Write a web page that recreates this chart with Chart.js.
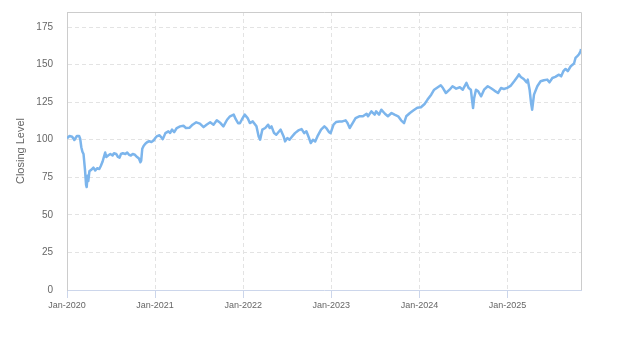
<!DOCTYPE html>
<html>
<head>
<meta charset="utf-8">
<script src="https://cdn.jsdelivr.net/npm/chart.js@4"></script>
<style>
  body { margin: 0; background: #fff; }
  #wrap { width: 623px; height: 350px; }
</style>
</head>
<body>
<div id="wrap"><canvas id="closeChart" width="623" height="350"></canvas></div>
<script>
// months elapsed since Jan-2020, and the closing level read at that point
const monthOffsets = [
  0, 0.35, 0.7, 1.0, 1.35, 1.65, 1.8, 1.95, 2.1, 2.25, 2.45, 2.6, 2.68, 2.8, 2.9,
  3.05, 3.3, 3.6, 3.85, 4.1, 4.4, 4.6, 4.85, 5.05, 5.2, 5.35, 5.6, 5.9, 6.2, 6.4,
  6.7, 6.95, 7.15, 7.35, 7.6, 7.95, 8.2, 8.45, 8.7, 8.95, 9.25, 9.55, 9.8, 10.0,
  10.1, 10.25, 10.45, 10.7, 10.95, 11.2, 11.5, 11.8, 12.0,
  12.2, 12.6, 13.05, 13.4, 13.8, 14.05, 14.3, 14.6, 14.95, 15.4, 15.86, 16.2,
  16.7, 17.1, 17.6, 18.1, 18.6, 19.0, 19.5, 19.95, 20.4, 20.9, 21.3, 21.8, 22.2,
  22.7, 23.0, 23.3, 23.55, 23.8,
  24.2, 24.6, 24.9, 25.3, 25.8, 26.1, 26.3, 26.6, 27.0, 27.4, 27.6, 27.85, 28.2,
  28.5, 28.9, 29.1, 29.5, 29.7, 30.0, 30.3, 30.6, 31.05, 31.5, 31.95, 32.3, 32.6,
  32.96, 33.2, 33.5, 33.8, 34.1, 34.6, 35.05, 35.35, 35.7, 35.9,
  36.3, 36.65, 37.1, 37.5, 37.95, 38.2, 38.5, 38.9, 39.3, 39.8, 40.3, 40.8, 41.0,
  41.45, 41.9, 42.1, 42.5, 42.8, 43.3, 43.7, 44.2, 44.6, 45.1, 45.5, 45.9, 46.2,
  46.7, 47.2, 47.7,
  48.2, 48.7, 49.1, 49.6, 50.0, 50.5, 50.9, 51.2, 51.6, 52.1, 52.5, 53.0, 53.5,
  53.9, 54.4, 54.7, 55.0, 55.15, 55.3, 55.45, 55.7, 56.0, 56.4, 56.8, 57.3, 57.7,
  58.2, 58.7, 59.1, 59.5, 59.95,
  60.4, 60.9, 61.4, 61.55, 61.8, 62.2, 62.6, 62.75, 63.0, 63.2, 63.35, 63.6, 64.05,
  64.5, 64.95, 65.4, 65.7, 66.1, 66.5, 67.0, 67.3, 67.6, 67.9, 68.2, 68.6, 69.05,
  69.25, 69.5, 69.7, 69.95, 70.0
];

const closingLevels = [
  101, 102.5, 102, 99.8, 102.5, 102.5, 100.5, 95, 92, 90.5, 80, 70, 68.5, 76, 72.5,
  79, 80, 81.5, 79.5, 81, 80.5, 82.5, 85.5, 89, 91.5, 88.5, 89.5, 90.5, 89.5, 91,
  90.5, 88.5, 88, 90.5, 91, 90.5, 91.5, 90, 89.5, 90.5, 90, 88.5, 87.5, 85,
  86, 94, 96, 97.5, 98.5, 99, 98.5, 99.5, 101,
  102.2, 103, 100.4, 104.4, 105.6, 104.5, 106.7, 105.1, 107.8, 108.9, 109.3, 107.8,
  108, 110, 111.6, 110.7, 108.4, 110, 111.6, 110, 112.9, 111.1, 108.9, 113.3, 115.6,
  116.7, 113.5, 111, 111, 113.3,
  116.7, 114.4, 111.1, 112.2, 108.9, 102.2, 100, 106.7, 107.8, 110, 107.8, 108.9, 104.4,
  103.3, 105.6, 106.7, 102.2, 98.9, 101.1, 100, 101.8, 104.4, 106.2, 107.1, 104.4, 105.6,
  101.1, 97.8, 100, 98.9, 102.2, 106.7, 108.9, 107.5, 105, 104.4,
  110, 111.8, 112.2, 112.2, 112.9, 111.1, 107.8, 111.1, 114.4, 115.6, 115.6, 117.3, 115.6,
  118.9, 116.7, 118.9, 116.7, 120, 117.3, 115.6, 117.8, 116.7, 115.6, 112.9, 111.1, 115.6,
  117.8, 119.6, 121.3,
  121.6, 123.8, 126.7, 130, 133.3, 134.9, 136.2, 134.4, 131.1, 133.3, 135.6, 134, 134.9,
  133.3, 137.8, 134.4, 133.3, 127, 121.1, 127.8, 133.3, 132.2, 128.9, 133.3, 135.6, 134.4,
  132.7, 131.1, 134.4, 133.8, 134.5,
  135.8, 138.9, 142.2, 143.5, 141.8, 140.4, 138.2, 140, 133.3, 124.4, 120, 130, 135.6,
  138.9, 139.6, 140, 138.2, 141.1, 141.8, 143.3, 142.2, 145.6, 147.1, 145.6, 148.9, 150.7,
  154.4, 155.6, 156.7, 158.9, 160.4
];

const startYear = 2020;
const yTicks = [0, 25, 50, 75, 100, 125, 150, 175];
const yTitle = 'Closing Level';

// draws the grey frame around the plot area (top and right sides)
const plotFrame = {
  id: 'plotFrame',
  afterDraw(chart) {
    const { ctx, chartArea } = chart;
    ctx.save();
    ctx.strokeStyle = '#cccccc';
    ctx.lineWidth = 1;
    ctx.beginPath();
    ctx.moveTo(chartArea.left, chartArea.top + 0.5);
    ctx.lineTo(chartArea.right + 0.5, chartArea.top + 0.5);
    ctx.lineTo(chartArea.right + 0.5, chartArea.bottom);
    ctx.stroke();
    ctx.restore();
  }
};

const points = monthOffsets.map((m, i) => ({ x: m, y: closingLevels[i] }));

const ctx = document.getElementById('closeChart').getContext('2d');
new Chart(ctx, {
  type: 'line',
  data: {
    datasets: [{
      label: yTitle,
      data: points,
      borderColor: '#7cb5ec',
      borderWidth: 2.5,
      pointRadius: 0,
      tension: 0,
      fill: false,
      borderJoinStyle: 'round'
    }]
  },
  options: {
    responsive: false,
    animation: false,
    layout: { padding: { top: 12, right: 42, left: 0, bottom: 0 } },
    plugins: {
      legend: { display: false },
      tooltip: { enabled: false }
    },
    scales: {
      x: {
        type: 'linear',
        min: 0,
        max: 70,
        afterFit: scale => { scale.height = 60; },
        ticks: {
          stepSize: 12,
          includeBounds: false,
          maxRotation: 0,
          padding: 2,
          color: '#666666',
          font: { family: 'Liberation Sans, Arial, sans-serif', size: 9 },
          callback: v => 'Jan-' + (startYear + v / 12)
        },
        grid: {
          color: '#e3e3e3',
          tickColor: '#ccd6eb',
          tickLength: 8
        },
        border: { color: '#ccd6eb', dash: [4, 3] }
      },
      y: {
        min: 0,
        max: 185,
        afterFit: scale => {
          scale.width = 67;
          scale.paddingTop = 0;
          scale.paddingBottom = 0;
        },
        afterBuildTicks: scale => { scale.ticks = yTicks.map(v => ({ value: v })); },
        ticks: {
          padding: 14,
          color: '#666666',
          font: { family: 'Liberation Sans, Arial, sans-serif', size: 10 }
        },
        grid: {
          color: '#e3e3e3',
          drawTicks: false
        },
        border: { color: '#cccccc', dash: [4, 3] },
        title: {
          display: true,
          text: yTitle,
          color: '#666666',
          padding: { top: 14, bottom: 0 },
          font: { family: 'Liberation Sans, Arial, sans-serif', size: 11 }
        }
      }
    }
  },
  plugins: [plotFrame]
});
</script>
</body>
</html>
